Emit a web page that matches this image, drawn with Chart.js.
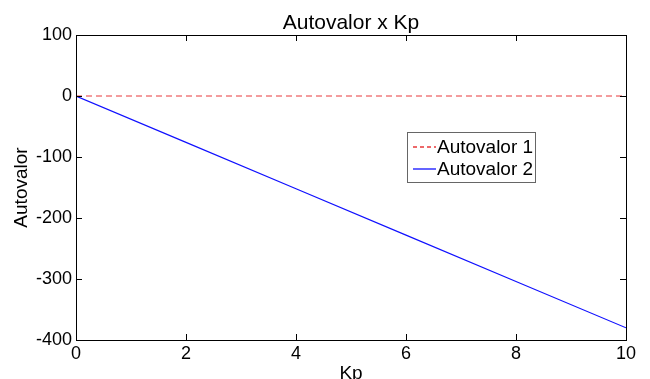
<!DOCTYPE html>
<html>
<head>
<meta charset="utf-8">
<script src="https://cdn.jsdelivr.net/npm/chart.js@4"></script>
<style>
  html, body { margin: 0; padding: 0; background: #fff; }
  #wrap { width: 650px; height: 379px; }
</style>
</head>
<body>
<div id="wrap"><canvas id="chart"></canvas></div>
<script>
// data
const kp = [0, 2, 4, 6, 8, 10];
const autovalor1 = [0, 0, 0, 0, 0, 0];
const autovalor2 = [0, -76, -152, -228, -304, -380];
const xTicks = [0, 2, 4, 6, 8, 10];
const yTicks = [-400, -300, -200, -100, 0, 100];

const FONT = 'Liberation Sans, Arial, Helvetica, sans-serif';
const RED = '#e8383a';
const BLUE = '#1010ff';

// matlab-style box, inward ticks, title and legend
const matlabAxes = {
  id: 'matlabAxes',
  afterDraw(chart) {
    const { ctx, chartArea: a, scales } = chart;
    const len = 6;
    ctx.save();
    ctx.strokeStyle = '#000';
    ctx.lineWidth = 1;
    ctx.strokeRect(Math.round(a.left) + 0.5, Math.round(a.top) + 0.5,
      Math.round(a.right - a.left), Math.round(a.bottom - a.top));

    ctx.beginPath();
    xTicks.forEach(v => {
      const x = Math.round(scales.x.getPixelForValue(v)) + 0.5;
      ctx.moveTo(x, a.bottom); ctx.lineTo(x, a.bottom - len);
      ctx.moveTo(x, a.top); ctx.lineTo(x, a.top + len);
    });
    yTicks.forEach(v => {
      const y = Math.round(scales.y.getPixelForValue(v)) + 0.5;
      ctx.moveTo(a.left, y); ctx.lineTo(a.left + len, y);
      ctx.moveTo(a.right, y); ctx.lineTo(a.right - len, y);
    });
    ctx.stroke();

    // title
    ctx.fillStyle = '#000';
    ctx.font = '21px ' + FONT;
    ctx.textAlign = 'center';
    ctx.textBaseline = 'alphabetic';
    ctx.fillText('Autovalor x Kp', (a.left + a.right) / 2, 29);

    // legend
    const bx = 407, by = 132, bw = 128, bh = 50;
    ctx.fillStyle = '#fff';
    ctx.fillRect(bx, by, bw, bh);
    ctx.strokeStyle = '#666';
    ctx.strokeRect(bx + 0.5, by + 0.5, bw, bh);
    ctx.font = '19px ' + FONT;
    ctx.textAlign = 'left';
    ctx.textBaseline = 'middle';
    chart.data.datasets.forEach((ds, i) => {
      const y = by + 15 + i * 22;
      ctx.beginPath();
      ctx.strokeStyle = i === 0 ? RED : BLUE;
      ctx.lineWidth = 1.3;
      ctx.setLineDash(i === 0 ? [4, 3] : []);
      ctx.moveTo(bx + 6, y);
      ctx.lineTo(bx + 29, y);
      ctx.stroke();
      ctx.setLineDash([]);
      ctx.fillStyle = '#000';
      ctx.fillText(ds.label, bx + 30, y + 1);
    });
    ctx.restore();
  }
};

new Chart(document.getElementById('chart'), {
  type: 'line',
  data: {
    datasets: [
      {
        label: 'Autovalor 1',
        data: kp.map((x, i) => ({ x, y: autovalor1[i] })),
        borderColor: RED,
        borderWidth: 1,
        borderDash: [6, 4],
        pointRadius: 0,
        tension: 0
      },
      {
        label: 'Autovalor 2',
        data: kp.map((x, i) => ({ x, y: autovalor2[i] })),
        borderColor: BLUE,
        borderWidth: 1.2,
        pointRadius: 0,
        tension: 0
      }
    ]
  },
  options: {
    responsive: true,
    maintainAspectRatio: false,
    animation: false,
    layout: { padding: { top: 35, right: 24, left: 0, bottom: 0 } },
    plugins: {
      legend: { display: false },
      title: { display: false },
      tooltip: { enabled: false }
    },
    scales: {
      x: {
        type: 'linear',
        min: 0,
        max: 10,
        afterBuildTicks: s => { s.ticks = xTicks.map(v => ({ value: v })); },
        afterFit: s => { s.height = 39; },
        grid: { display: false, drawTicks: false },
        border: { display: false },
        ticks: { color: '#000', font: { family: FONT, size: 18 }, padding: 3, maxRotation: 0 },
        title: {
          display: true, text: 'Kp', color: '#000',
          font: { family: FONT, size: 19 }, padding: { top: 0, bottom: -6 }
        }
      },
      y: {
        min: -400,
        max: 100,
        afterBuildTicks: s => { s.ticks = yTicks.map(v => ({ value: v })); },
        afterFit: s => { s.width = 76; },
        grid: { display: false, drawTicks: false },
        border: { display: false },
        ticks: { color: '#000', font: { family: FONT, size: 18 }, padding: 4 },
        title: {
          display: true, text: 'Autovalor', color: '#000',
          font: { family: FONT, size: 19 }, padding: { top: 10, bottom: 0 }
        }
      }
    }
  },
  plugins: [matlabAxes]
});
</script>
</body>
</html>
